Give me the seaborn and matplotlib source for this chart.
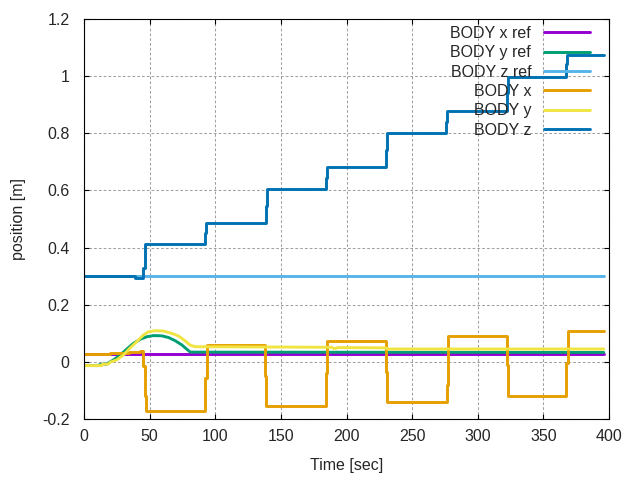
import numpy as np
import pandas as pd
import matplotlib
matplotlib.use("Agg")
import matplotlib.pyplot as plt
from matplotlib.ticker import FuncFormatter, MultipleLocator
import seaborn as sns

sns.set_style("ticks")
plt.rcParams['font.family'] = ['Liberation Sans', 'DejaVu Sans']

# ---- data ----
t_xref = [0, 396]
v_xref = [0.029, 0.029]

t_yref = [0, 10, 13.5, 17, 22.5, 27.6, 32.7, 37.7, 42.8, 47.9, 53, 59.4, 64.5,
          69.5, 74.6, 78.4, 81, 396]
v_yref = [-0.013, -0.013, -0.008, -0.008, 0.007, 0.024, 0.045, 0.065, 0.079,
          0.088, 0.092, 0.091, 0.085, 0.074, 0.059, 0.044, 0.034, 0.033]

t_zref = [0, 396]
v_zref = [0.299, 0.299]

# BODY x (step signal, held until next time)
t_x = [0, 20, 34, 43, 45.1, 46.2, 47.2, 92.2, 93.4, 137.8, 138.5, 184.6, 185.4,
       230.0, 230.8, 276.2, 277.0, 322.0, 322.8, 367.6, 368.4, 396]
v_x = [0.027, 0.030, 0.034, 0.038, -0.014, -0.121, -0.173, -0.057, 0.058,
       -0.051, -0.156, -0.040, 0.074, -0.034, -0.139, -0.080, 0.092, -0.010,
       -0.119, -0.005, 0.109, 0.109]

t_y = [0, 13.5, 14, 18.5, 20, 25, 30, 35, 40.2, 45.3, 49, 54, 60.3, 66.7, 71.8,
       76.9, 80.7, 84.5, 189, 190, 192, 193, 230, 231, 396]
v_y = [-0.013, -0.013, -0.008, -0.008, -0.001, 0.007, 0.024, 0.048, 0.071,
       0.094, 0.105, 0.109, 0.108, 0.100, 0.091, 0.074, 0.059, 0.053, 0.051,
       0.047, 0.047, 0.050, 0.049, 0.045, 0.045]

# BODY z (step signal)
t_z = [0, 9, 17, 39, 45.3, 46.3, 92.2, 93.0, 138.5, 139.3, 184.6, 185.4,
       230.4, 231.2, 275.6, 276.4, 322.3, 323.1, 367.5, 368.3, 396]
v_z = [0.300, 0.302, 0.300, 0.295, 0.330, 0.413, 0.450, 0.486, 0.547, 0.605,
       0.643, 0.682, 0.742, 0.801, 0.840, 0.877, 0.940, 0.997, 1.043, 1.073,
       1.073]

labels = ["BODY x ref", "BODY y ref", "BODY z ref", "BODY x", "BODY y", "BODY z"]
colors = ["#9400D3", "#009E73", "#56B4E9", "#E69F00", "#F0E442", "#0072B2"]
series = [(t_xref, v_xref, "default"), (t_yref, v_yref, "default"),
          (t_zref, v_zref, "default"), (t_x, v_x, "steps-post"),
          (t_y, v_y, "default"), (t_z, v_z, "steps-post")]

FS = 11.5

fig = plt.figure(figsize=(6.4, 4.8), dpi=100)
ax = fig.add_axes([84/640, 61/480, 525/640, 400/480])

for (t, v, ds), lab, col in zip(series, labels, colors):
    df = pd.DataFrame({"t": t, "v": v})
    sns.lineplot(data=df, x="t", y="v", ax=ax, color=col, label=lab,
                 linewidth=2.1, drawstyle=ds, estimator=None, sort=False)

ax.set_xlim(0, 400)
ax.set_ylim(-0.2, 1.2)
ax.xaxis.set_major_locator(MultipleLocator(50))
ax.yaxis.set_major_locator(MultipleLocator(0.2))
fmt = FuncFormatter(lambda v, p: ("%g" % round(v, 6)))
ax.yaxis.set_major_formatter(fmt)
ax.xaxis.set_major_formatter(fmt)

ax.grid(True, color="#a0a0a0", linewidth=0.75, linestyle=(0, (2.6, 2.0)))
ax.set_axisbelow(True)
for s in ax.spines.values():
    s.set_visible(True)
    s.set_color("black")
    s.set_linewidth(0.8)
ax.tick_params(axis="both", which="major", direction="in", length=3.3,
               width=0.8, top=True, right=True, labelsize=FS, color="black")
ax.tick_params(axis="x", pad=7.5)
ax.tick_params(axis="y", pad=10.5)

ax.set_xlabel("Time [sec]", fontsize=FS)
ax.set_ylabel("position [m]", fontsize=FS)
ax.xaxis.set_label_coords(0.5, -0.0975)
ax.yaxis.set_label_coords(-0.110, 0.5)

leg = ax.legend(loc="upper right", frameon=False, markerfirst=False,
                fontsize=FS, handlelength=2.9, handletextpad=0.78,
                labelspacing=0.27, borderaxespad=0, borderpad=0,
                bbox_to_anchor=(1 - 19/525, 1 - 7.0/400))

fig.savefig("out.png", dpi=100)
